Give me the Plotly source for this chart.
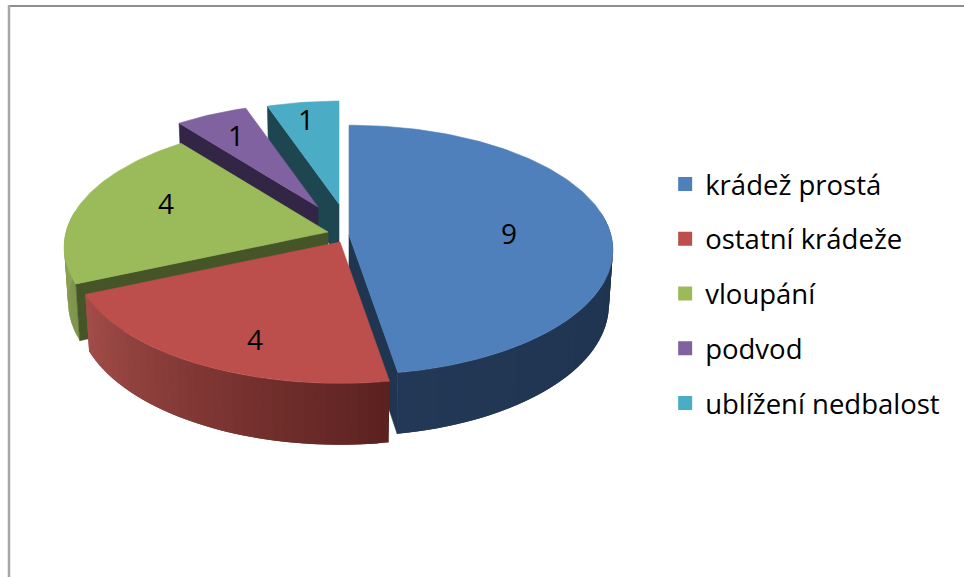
import math
import plotly.graph_objects as go

categories = ["krádež prostá", "ostatní krádeže", "vloupání", "podvod", "ublížení nedbalost"]
values = [9, 4, 4, 1, 1]

# colours: top face, radial wall, outer wall at its left and right end
top_colors = ["#4f80bb", "#bc4f4c", "#9bba5a", "#8062a0", "#4bacc6"]
side_colors = ["#1f3550", "#5c2220", "#465527", "#322545", "#1e4651"]
wall_left = ["#223856", "#a54e4a", "#91a956", "#322545", "#1e4651"]
wall_right = ["#1e334e", "#5c2220", "#7f944c", "#322545", "#1e4651"]

# how each slice is pulled out of the pie, radius factor, where its number sits
pull_x = [10.5, 1.5, -10.5, -20.5, 0.5]
pull_y = [11, 18, 8, -17, -20]
radius = [1, 1.01, 1, 0.94, 0.93]
label_dx = [160, -85, -162, -82, -33]
label_dy = [0, 99, -27, -70, -83]

# pie projection in page pixels
CX, CY = 338.5, 224
A, B = 262, 123
PERSP = 0.12
DEPTH = 54
DRAW_ORDER = [4, 3, 2, 0, 1]


def project(i, theta, r=1.0, down=0.0):
    # theta in degrees clockwise from the top, r in pie radii
    x = math.sin(math.radians(theta)) * r * radius[i]
    y = -math.cos(math.radians(theta)) * r * radius[i]
    s = 1 / (1 - PERSP * y)
    k = 1 - 0.015 * down
    return (CX + pull_x[i] + A * x * s * k, CY + pull_y[i] + B * y * s + DEPTH * s * down)


def mix(c1, c2, t):
    a = [int(c1[j:j + 2], 16) for j in (1, 3, 5)]
    b = [int(c2[j:j + 2], 16) for j in (1, 3, 5)]
    return "#%02x%02x%02x" % tuple(round(p + (q - p) * t) for p, q in zip(a, b))


def polygon(points, color, width=0.6):
    return go.Scatter(
        x=[p[0] for p in points] + [points[0][0]],
        y=[p[1] for p in points] + [points[0][1]],
        mode="lines", fill="toself", fillcolor=color,
        line=dict(color=color, width=width),
        hoverinfo="skip", showlegend=False,
    )


total = sum(values)
starts = [sum(values[:i]) / total * 360 for i in range(len(values))]
ends = [sum(values[:i + 1]) / total * 360 for i in range(len(values))]

fig = go.Figure()

for i in DRAW_ORDER:
    t0, t1 = starts[i], ends[i]

    # outer wall, cut into narrow bands for the shading; each band runs on under
    # the next one so no seams show
    a0, a1 = max(t0, 80), min(t1, 280)
    if a1 > a0:
        n = max(int((a1 - a0) / 2), 1)
        for k in range(n):
            u0 = a0 + (a1 - a0) * k / n
            u1 = min(a0 + (a1 - a0) * (k + 2) / n, a1)
            color = mix(wall_right[i], wall_left[i], k / n)
            fig.add_trace(polygon(
                [project(i, u0), project(i, u1), project(i, u1, down=1), project(i, u0, down=1)],
                color, width=0,
            ))

    # radial walls, only those which face the viewer
    if t0 > 180:
        fig.add_trace(polygon(
            [project(i, t0, 0), project(i, t0), project(i, t0, down=1), project(i, t0, 0, down=1)],
            side_colors[i],
        ))
    if 0 < t1 < 180:
        fig.add_trace(polygon(
            [project(i, t1, 0), project(i, t1), project(i, t1, down=1), project(i, t1, 0, down=1)],
            side_colors[i],
        ))

    # top face
    steps = max(int(t1 - t0), 2)
    pts = [project(i, 0, 0)] + [project(i, t0 + (t1 - t0) * k / steps) for k in range(steps + 1)]
    fig.add_trace(polygon(pts, top_colors[i]))

# value labels
fig.add_trace(go.Scatter(
    x=[CX + pull_x[i] + label_dx[i] for i in range(len(values))],
    y=[CY + pull_y[i] + label_dy[i] + 2 for i in range(len(values))],
    text=[str(v) for v in values],
    mode="text", textposition="middle center",
    textfont=dict(family="Open Sans", size=28, color="#000000"),
    hoverinfo="skip", showlegend=False,
))

# legend entries
for i, name in enumerate(categories):
    fig.add_trace(go.Scatter(
        x=[None], y=[None], mode="markers", name=name, legendgroup=name,
        marker=dict(symbol="square", size=16, color=top_colors[i],
                    line=dict(color=top_colors[i], width=2)),
    ))

fig.update_layout(
    width=964, height=577,
    margin=dict(l=0, r=0, t=0, b=0),
    paper_bgcolor="white", plot_bgcolor="white",
    showlegend=True,
    legend=dict(
        x=0.69, y=0.7234, xanchor="left", yanchor="top",
        font=dict(family="Open Sans", size=27.5, color="#000000"),
        itemsizing="constant", itemwidth=30,
        traceorder="grouped", tracegroupgap=16,
        bgcolor="rgba(0,0,0,0)", borderwidth=0,
    ),
    shapes=[
        dict(type="line", xref="paper", yref="paper", x0=9 / 964, x1=1, y0=1 - 6 / 577, y1=1 - 6 / 577,
             line=dict(color="#8e8e8e", width=2)),
        dict(type="line", xref="paper", yref="paper", x0=9 / 964, x1=9 / 964, y0=0, y1=1 - 5 / 577,
             line=dict(color="#a6a6a6", width=2.5)),
    ],
)
fig.update_xaxes(visible=False, range=[0, 964], fixedrange=True)
fig.update_yaxes(visible=False, range=[577, 0], fixedrange=True)

# the page's default body margin would push the chart 8px in
fig.write_html("out.html", config=dict(displayModeBar=False),
               post_script="document.body.style.margin='0';")
